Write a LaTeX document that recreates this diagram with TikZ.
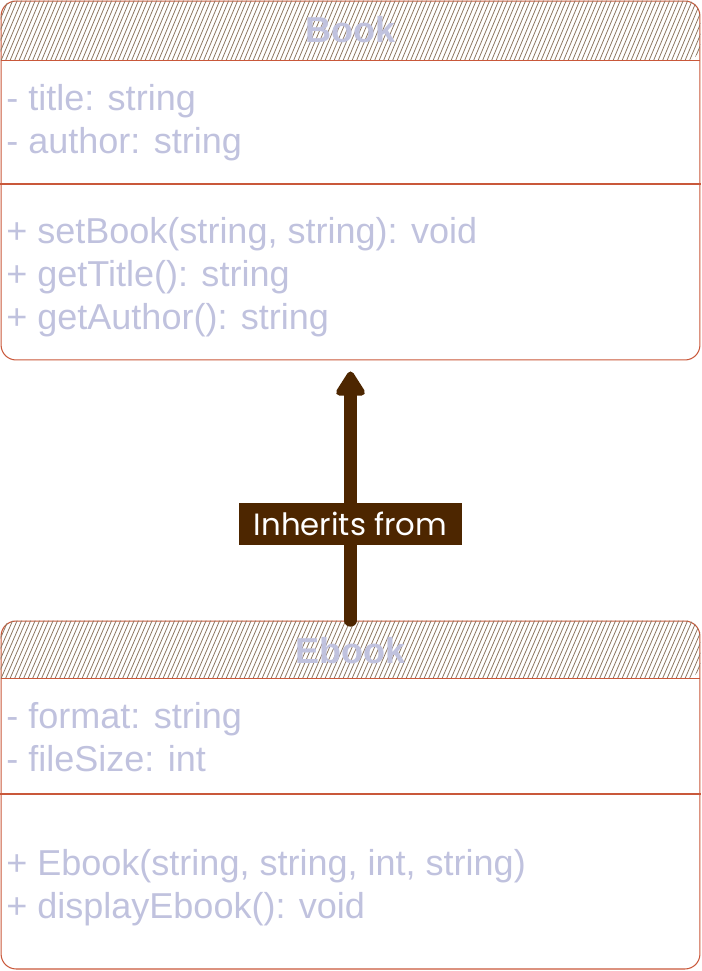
\documentclass[tikz,border=0pt]{standalone}
\usepackage{fontspec}
\setmainfont{Liberation Sans}
\newfontfamily\handfont{Poppins}
\usetikzlibrary{positioning,arrows.meta,calc}
\definecolor{edgec}{HTML}{C9583A}
\definecolor{hatchc}{HTML}{8C7660}
\definecolor{textc}{HTML}{C0C2DE}
\definecolor{arrowc}{HTML}{4D2600}

\begin{document}
\begin{tikzpicture}[
  x=0.02cm, y=-0.02cm,
  font=\fontsize{20.5}{24.5}\selectfont,
  classbox/.style={
    rectangle, rounded corners=0.3cm,
    draw=edgec, line width=0.6pt,
    minimum width=13.98cm, inner sep=0pt
  },
  classname/.style={text=textc, inner sep=0pt, font=\fontsize{20.5}{24.5}\selectfont\bfseries},
  member/.style={anchor=west, align=left, inner sep=0pt, text=textc},
  hatch/.style={draw=hatchc, line width=0.45pt},
  sep/.style={draw=edgec, line width=0.6pt},
  inherit/.style={-{Triangle[round,length=5.5mm,width=6.5mm]}, line width=7pt, draw=arrowc, line cap=round, shorten >=0.22cm},
  tag/.style={fill=arrowc, text=white, font=\handfont\fontsize{17.5}{19}\selectfont, minimum width=4.46cm, minimum height=0.84cm, inner sep=0pt}
]
\useasboundingbox (0,0) rectangle (701,971);

% The two class boxes
\node[classbox, minimum height=7.18cm] (book)  at (350.5,180.5) {};
\node[classbox, minimum height=6.96cm] (ebook) at (350.5,795)   {};

% Hatched headers
\foreach \c/\h in {book/60, ebook/58} {
  \begin{scope}
    \clip ($(\c.north west)+(0,\h)$) [rounded corners=0.3cm] |- (\c.north) -| ($(\c.north east)+(0,\h)$) [sharp corners] -- cycle;
    \foreach \i in {-40,-35.5,...,720}
      \draw[hatch] ($(\c.north west)+(\i,\h)$) -- ++(26,-\h-2);
  \end{scope}
  \draw[sep] ($(\c.north west)+(0,\h)$) -- ($(\c.north east)+(0,\h)$);
}

% Book
\node[classname] (book name) at (350.5,30) {Book};
\node[member] (book attrs) at (6,122.5) {- title: string\\- author: string};
\draw[sep] (0.5,184) -- (700.5,184);
\node[member] (book ops) at (6,277) {+ setBook(string, string): void\\+ getTitle(): string\\+ getAuthor(): string};

% Ebook
\node[classname] (ebook name) at (350.5,651) {Ebook};
\node[member] (ebook attrs) at (6,737) {- format: string\\- fileSize: int};
\draw[sep] (0.5,794) -- (700.5,794);
\node[member] (ebook ops) at (6,888) {+ Ebook(string, string, int, string)\\+ displayEbook(): void};

% Inheritance arrow
\draw[inherit] (ebook.north) -- (book.south)
  node[tag, pos=0.37] (inherits) {Inherits from};

\end{tikzpicture}
\end{document}
